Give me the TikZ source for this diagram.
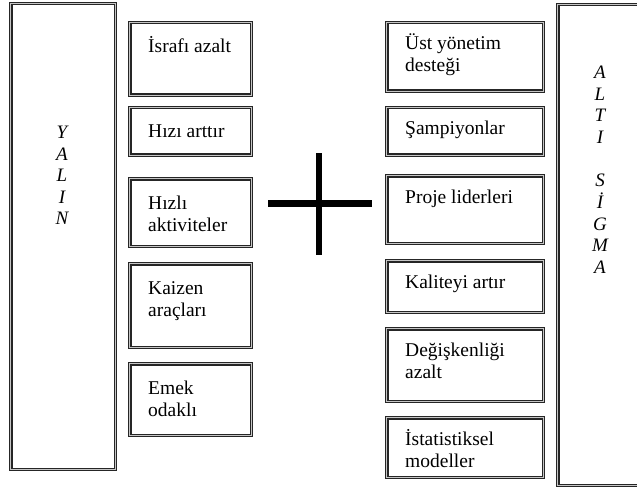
\documentclass[tikz,border=0pt]{standalone}
\usepackage{fontspec}
\setmainfont{Liberation Serif}
\usetikzlibrary{positioning}
\newcommand{\indx}{19}
\newcommand{\indyL}{31}
\newcommand{\indyR}{28}
\tikzset{
  tribox/.style={draw=black!85, line width=1.3pt, double=gray!45, double distance=1.1pt, inner sep=0pt},
  itemtext/.style={anchor=base west, inner sep=0pt, font=\fontsize{19.5}{22}\selectfont},
  lettertext/.style={anchor=base, inner sep=0pt, font=\fontsize{19}{21.5}\selectfont\itshape},
}

\begin{document}
\begin{tikzpicture}[x=1pt, y=-1pt]
    \useasboundingbox (0,0) rectangle (637,492);
    % --- --- --- Left column (Yalin)
    \node[tribox, minimum width=104.7pt, minimum height=465.7pt] (yalin) at (63,236.5) {};
    \node[lettertext] (yalintxt) at (62,139) {\begin{tabular}[t]{@{}c@{}}Y\\A\\L\\I\\N\end{tabular}};
    % --- --- --- Lean items
    \node[tribox, minimum width=121.7pt, minimum height=72.7pt] (israf) at (190.5,59) {};
    \node[tribox, minimum width=121.7pt, minimum height=47.7pt] (hiz) at (190.5,131.5) {};
    \node[tribox, minimum width=121.7pt, minimum height=67.7pt] (aktiv) at (190.5,212.5) {};
    \node[tribox, minimum width=121.7pt, minimum height=83.7pt] (kaizen) at (190.5,305.5) {};
    \node[tribox, minimum width=121.7pt, minimum height=71.7pt] (emek) at (190.5,399.5) {};
    \node[itemtext] (israftxt) at ([shift={(\indx,\indyL)}]israf.north west) {\begin{tabular}[t]{@{}l@{}}İsrafı azalt\end{tabular}};
    \node[itemtext] (hiztxt) at ([shift={(\indx,\indyL)}]hiz.north west) {\begin{tabular}[t]{@{}l@{}}Hızı arttır\end{tabular}};
    \node[itemtext] (aktivtxt) at ([shift={(\indx,\indyL)}]aktiv.north west) {\begin{tabular}[t]{@{}l@{}}Hızlı\\aktiviteler\end{tabular}};
    \node[itemtext] (kaizentxt) at ([shift={(\indx,\indyL)}]kaizen.north west) {\begin{tabular}[t]{@{}l@{}}Kaizen\\araçları\end{tabular}};
    \node[itemtext] (emektxt) at ([shift={(\indx,\indyL)}]emek.north west) {\begin{tabular}[t]{@{}l@{}}Emek\\odaklı\end{tabular}};
    % === === === Plus sign
    \draw[line width=7pt] (268,203) -- (372,203);
    \draw[line width=6.5pt] (319,153) -- (319,255);
    % --- --- --- Six Sigma items
    \node[tribox, minimum width=156.7pt, minimum height=68.7pt] (destek) at (465,57) {};
    \node[tribox, minimum width=156.7pt, minimum height=47.7pt] (sampiyon) at (465,131.5) {};
    \node[tribox, minimum width=156.7pt, minimum height=67.7pt] (lider) at (465,209.5) {};
    \node[tribox, minimum width=156.7pt, minimum height=51.7pt] (kalite) at (465,286.5) {};
    \node[tribox, minimum width=156.7pt, minimum height=72.7pt] (degisken) at (465,365) {};
    \node[tribox, minimum width=156.7pt, minimum height=59.7pt] (istat) at (465,447.5) {};
    \node[itemtext] (destektxt) at ([shift={(\indx,\indyR)}]destek.north west) {\begin{tabular}[t]{@{}l@{}}Üst yönetim\\desteği\end{tabular}};
    \node[itemtext] (sampiyontxt) at ([shift={(\indx,\indyR)}]sampiyon.north west) {\begin{tabular}[t]{@{}l@{}}Şampiyonlar\end{tabular}};
    \node[itemtext] (lidertxt) at ([shift={(\indx,\indyR)}]lider.north west) {\begin{tabular}[t]{@{}l@{}}Proje liderleri\end{tabular}};
    \node[itemtext] (kalitetxt) at ([shift={(\indx,\indyR)}]kalite.north west) {\begin{tabular}[t]{@{}l@{}}Kaliteyi artır\end{tabular}};
    \node[itemtext] (degiskentxt) at ([shift={(\indx,\indyR)}]degisken.north west) {\begin{tabular}[t]{@{}l@{}}Değişkenliği\\azalt\end{tabular}};
    \node[itemtext] (istattxt) at ([shift={(\indx,\indyR)}]istat.north west) {\begin{tabular}[t]{@{}l@{}}İstatistiksel\\modeller\end{tabular}};
    % --- --- --- Right column (Alti Sigma)
    \node[tribox, minimum width=100.7pt, minimum height=480.7pt] (sigma) at (608,245) {};
    \node[lettertext] (sigmatxt) at (600,79) {\begin{tabular}[t]{@{}c@{}}A\\L\\T\\I\\ \\S\\İ\\G\\M\\A\end{tabular}};
\end{tikzpicture}
\end{document}
